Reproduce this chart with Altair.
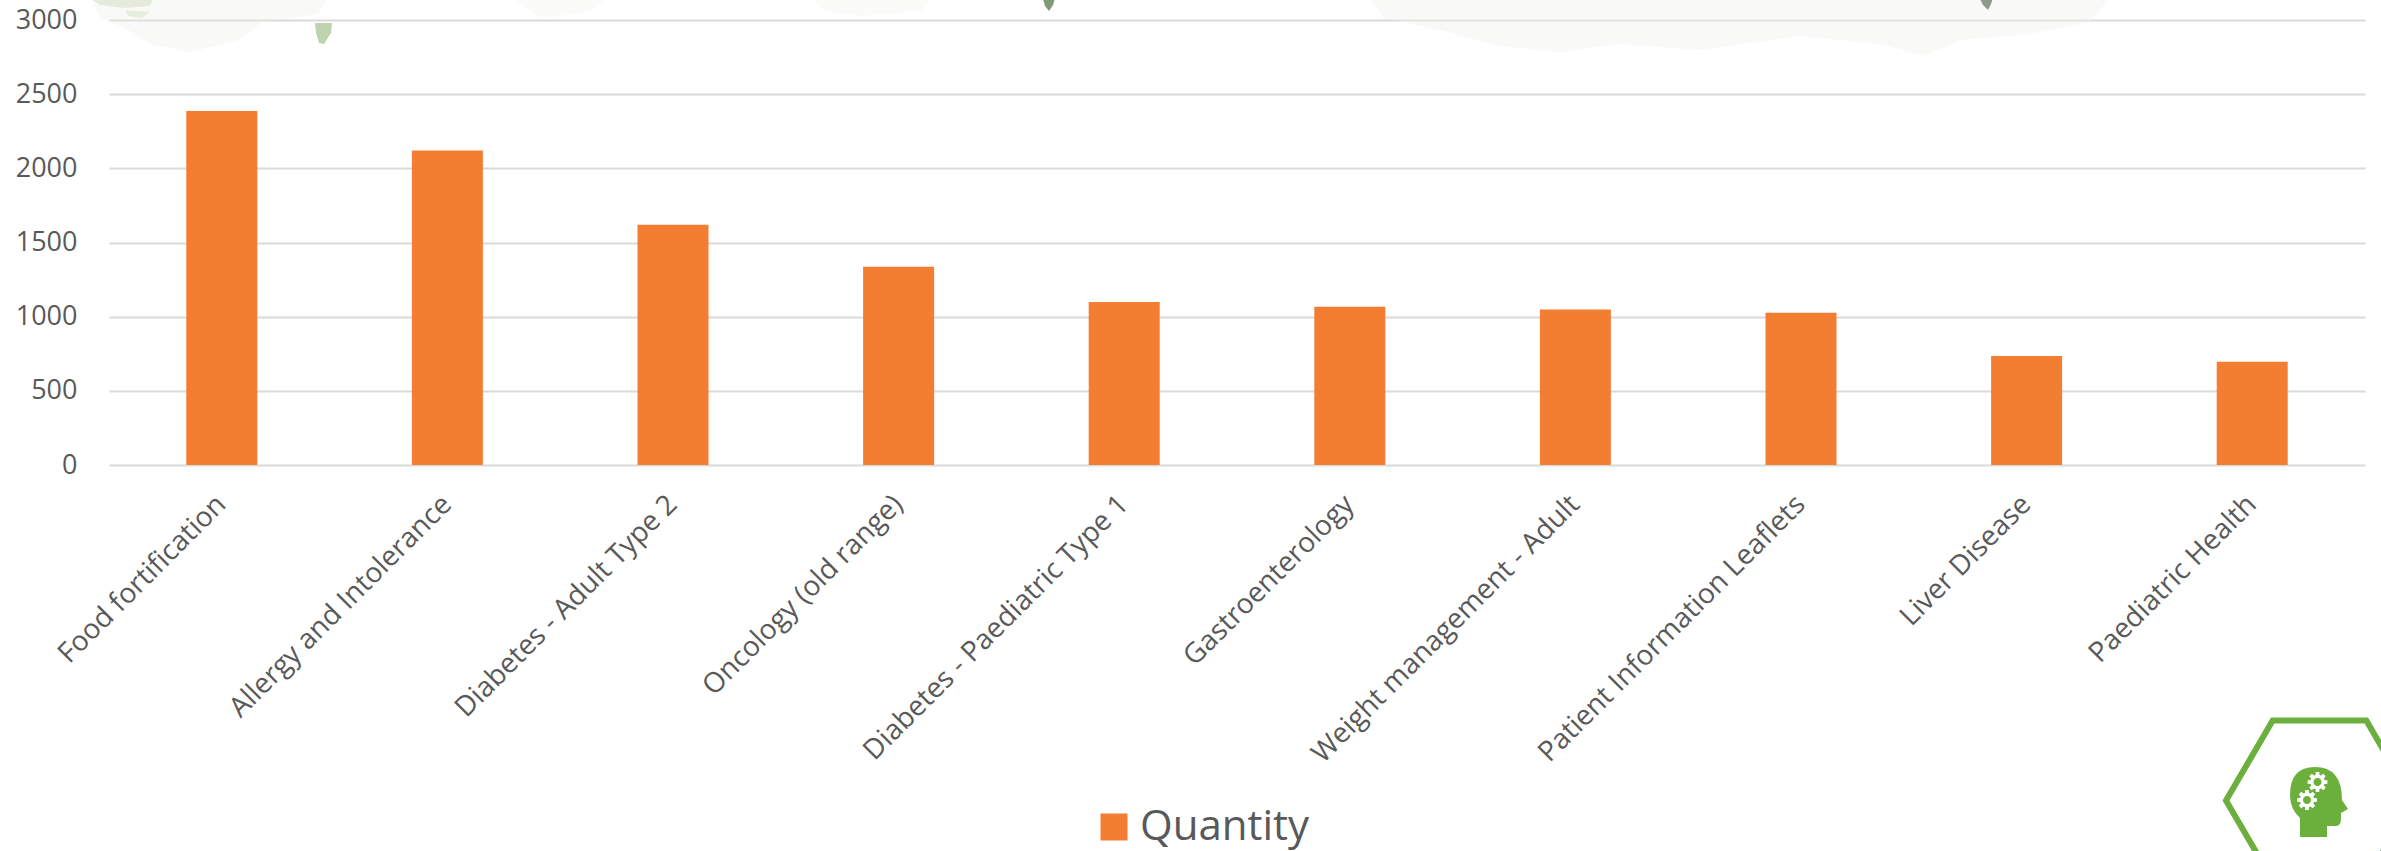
import math

import altair as alt
import pandas as pd

# Chart values
categories = [
    "Food fortification", "Allergy and Intolerance", "Diabetes - Adult Type 2",
    "Oncology (old range)", "Diabetes - Paediatric Type 1", "Gastroenterology",
    "Weight management - Adult", "Patient Information Leaflets", "Liver Disease",
    "Paediatric Health",
]
quantities = [2387, 2121, 1620, 1337, 1099, 1067, 1049, 1027, 735, 696]
series_name = "Quantity"
y_ticks = [0, 500, 1000, 1500, 2000, 2500, 3000]

# Page layout
PAD_LEFT, PAD_TOP = 109, 20
PLOT_W, PLOT_H = 2256, 445
PAD_RIGHT = 2381 - PAD_LEFT - PLOT_W
PAD_BOTTOM = 851 - PAD_TOP - PLOT_H

ORANGE = "#F37E31"
GREY_TEXT = "#595959"
GRID = "#D9D9D9"
GREEN = "#6BAF3C"
FONT = "Open Sans"


def to_path(points):
    return "M" + " L".join(f"{x:.1f} {y:.1f}" for x, y in points) + " Z"


def ornament(path, cx, cy, fill="transparent", stroke="transparent", stroke_width=0, opacity=1.0):
    # A custom symbol of size 4 keeps its path units equal to pixels.
    return (
        alt.Chart(pd.DataFrame({"k": [0]}))
        .mark_point(
            shape=path, size=4, filled=False, fill=fill, stroke=stroke,
            strokeWidth=stroke_width, opacity=opacity,
        )
        .encode(x=alt.value(cx - PAD_LEFT), y=alt.value(cy - PAD_TOP))
    )


def gear(radius):
    pts = []
    for i in range(8):
        a = i * math.pi / 4
        for da, r in [(-0.30, 0.72), (-0.17, 1.0), (0.17, 1.0), (0.30, 0.72)]:
            pts.append((radius * r * math.cos(a + da), radius * r * math.sin(a + da)))
    return to_path(pts)


def disc(radius):
    return to_path([
        (radius * math.cos(i * math.pi / 12), radius * math.sin(i * math.pi / 12))
        for i in range(24)
    ])


# Faint watercolour wash along the top edge
wash_left = to_path([(90, -5), (330, -5), (318, 14), (262, 22), (240, 40), (190, 52),
                     (150, 44), (125, 28), (100, 18)])
wash_mid_a = to_path([(505, -5), (612, -5), (590, 12), (540, 18)])
wash_mid_b = to_path([(810, -5), (935, -5), (920, 12), (860, 16), (825, 12)])
wash_right = to_path([(1366, -5), (2112, -5), (2090, 22), (2030, 34), (1960, 40), (1925, 56),
                      (1880, 44), (1800, 36), (1700, 50), (1620, 44), (1560, 52), (1500, 46),
                      (1440, 30), (1385, 18)])
sprig_top = to_path([(85, -5), (155, -5), (150, 6), (125, 8), (100, 5)])
sprig_low = to_path([(125, 10), (150, 12), (142, 18), (128, 16)])
drop_left = to_path([(315, 23), (332, 23), (331, 33), (324, 44), (319, 43), (316, 33)])
drop_dark = to_path([(1042, -5), (1056, -5), (1053, 5), (1049, 11), (1045, 6)])
drop_right = to_path([(1978, -5), (1994, -5), (1991, 4), (1988, 10), (1983, 5)])

hexagon = to_path([(93.5, 0), (46.8, -80), (-46.8, -80), (-93.5, 0), (-46.8, 80), (46.8, 80)])
head = (
    "M-19 35 L8 35 L8 24 L17 24 Q22 24 22 16 L22 11 L29 7 L23 -2 "
    "Q23 -35 -4 -35 Q-29 -35 -29 -7 Q-29 7 -19 16 Z"
)

decor_back = [
    ornament(wash_left, 0, 0, fill="#EEF2E9", opacity=0.35),
    ornament(wash_mid_a, 0, 0, fill="#F2F4EE", opacity=0.3),
    ornament(wash_mid_b, 0, 0, fill="#F2F4EE", opacity=0.3),
    ornament(wash_right, 0, 0, fill="#F1F1EE", opacity=0.4),
    ornament(sprig_top, 0, 0, fill="#C9DABB", opacity=0.45),
    ornament(sprig_low, 0, 0, fill="#CFDFC3", opacity=0.45),
    ornament(drop_left, 0, 0, fill="#BFD3B0"),
    ornament(drop_dark, 0, 0, fill="#7F9B77"),
    ornament(drop_right, 0, 0, fill="#8F9A8C"),
]

decor_front = [
    ornament(hexagon, 2319.5, 800.5, fill="white", stroke=GREEN, stroke_width=6),
    ornament(head, 2319, 802, fill=GREEN),
    ornament(gear(10), 2317.5, 782, fill="white"),
    ornament(disc(4), 2317.5, 782, fill=GREEN),
    ornament(gear(10), 2307, 800, fill="white"),
    ornament(disc(4), 2307, 800, fill=GREEN),
]

table = pd.DataFrame({"category": categories, "quantity": quantities, "series": series_name})

bars = (
    alt.Chart(table)
    .mark_bar(size=71)
    .encode(
        x=alt.X(
            "category:N",
            sort=categories,
            title=None,
            scale=alt.Scale(paddingInner=0, paddingOuter=0),
            axis=alt.Axis(
                labelAngle=-45, labelAlign="right", labelBaseline="middle",
                labelFont=FONT, labelFontSize=28, labelColor=GREY_TEXT,
                labelPadding=35, labelLimit=600, ticks=False, domain=False, grid=False,
            ),
        ),
        y=alt.Y(
            "quantity:Q",
            title=None,
            scale=alt.Scale(domain=[0, 3000]),
            axis=alt.Axis(
                values=y_ticks, format="d", labelFont=FONT, labelFontSize=27,
                labelColor=GREY_TEXT, labelPadding=32, ticks=False, domain=False, grid=True,
                gridColor=GRID, gridWidth=2,
            ),
        ),
        color=alt.Color(
            "series:N",
            scale=alt.Scale(domain=[series_name], range=[ORANGE]),
            legend=alt.Legend(
                title=None, orient="none", legendX=984, legendY=786,
                symbolType="square", symbolSize=729, symbolStrokeWidth=0,
                labelFont=FONT, labelFontSize=42, labelColor=GREY_TEXT, labelOffset=5,
                labelLimit=400,
            ),
        ),
    )
)

chart = (
    alt.layer(*decor_back, bars, *decor_front)
    .properties(
        width=PLOT_W,
        height=PLOT_H,
        padding={"left": PAD_LEFT, "top": PAD_TOP, "right": PAD_RIGHT, "bottom": PAD_BOTTOM},
        autosize=alt.AutoSizeParams(type="none"),
        background="white",
    )
    .configure_view(stroke=None)
)

chart.save("out.html", embed_options={"renderer": "svg", "actions": False})
